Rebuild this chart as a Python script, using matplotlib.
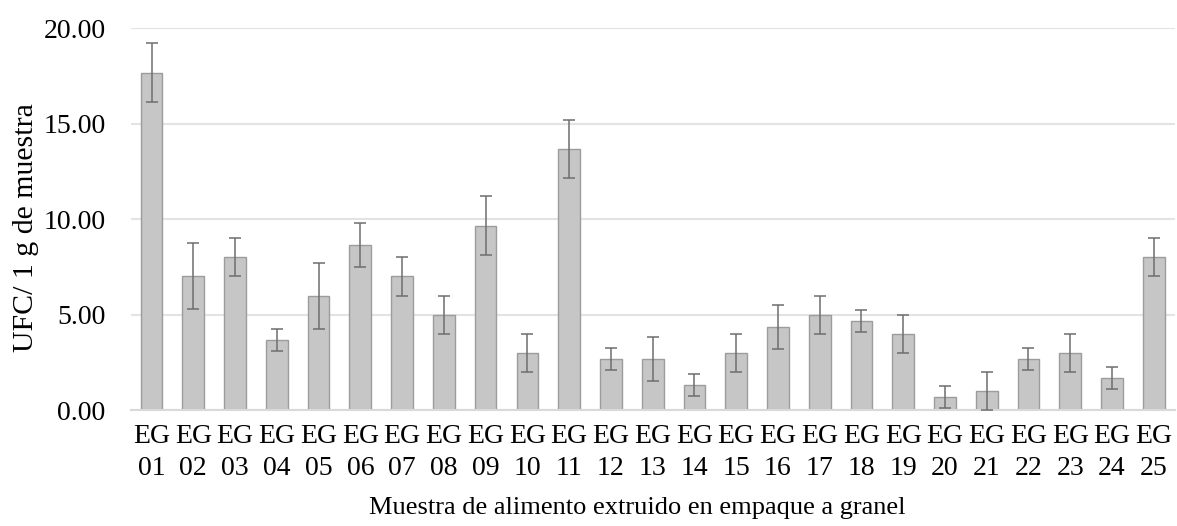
import numpy as np
import matplotlib
matplotlib.use("Agg")
import matplotlib.pyplot as plt

# Datos de la muestra (UFC / 1 g de muestra)
muestras = ["EG\n%02d" % i for i in range(1, 26)]
medias = [17.67, 7.00, 8.00, 3.67, 6.00, 8.67, 7.00, 5.00, 9.67, 3.00,
          13.67, 2.67, 2.67, 1.33, 3.00, 4.33, 5.00, 4.67, 4.00, 0.67,
          1.00, 2.67, 3.00, 1.67, 8.00]
errores = [1.55, 1.73, 1.00, 0.58, 1.73, 1.15, 1.00, 1.00, 1.53, 1.00,
           1.53, 0.58, 1.15, 0.58, 1.00, 1.15, 1.00, 0.58, 1.00, 0.58,
           1.00, 0.58, 1.00, 0.58, 1.00]

plt.rcParams["font.family"] = ["Liberation Serif", "DejaVu Serif"]

fig = plt.figure(figsize=(11.77, 5.26), dpi=100)
ax = fig.add_axes([0.111, 0.2205, 0.887, 0.7255])

x = np.arange(len(muestras))
ax.bar(x, medias, width=0.52, color="#c6c6c6", edgecolor="#9c9c9c", linewidth=1.0, zorder=2)
ax.errorbar(x, medias, yerr=errores, fmt="none", ecolor="#6e6e6e", elinewidth=1.1,
            capsize=4, capthick=1.1, zorder=3)

ax.set_xlim(-0.5, len(muestras) - 0.5)
ax.set_ylim(0, 20)
ax.set_yticks([0, 5, 10, 15, 20])
ax.set_yticklabels(["%.2f" % v for v in [0, 5, 10, 15, 20]], fontsize=20)
ax.set_xticks(x)
ax.set_xticklabels(muestras, fontsize=20, linespacing=1.35)
ax.tick_params(axis="both", length=0)
ax.tick_params(axis="y", pad=18)
ax.tick_params(axis="x", pad=10)

ax.grid(axis="y", color="#e3e3e3", linewidth=1.5, zorder=0)
for lado in ["top", "right", "left"]:
    ax.spines[lado].set_visible(False)
ax.spines["bottom"].set_color("#d9d9d9")
ax.spines["bottom"].set_linewidth(1.5)

ax.set_ylabel("UFC/ 1 g de muestra", fontsize=21.5, labelpad=3, y=0.477)
ax.set_xlabel("Muestra de alimento extruido en empaque a granel", fontsize=19, labelpad=12, x=0.485)

fig.savefig("out.png", dpi=100)
